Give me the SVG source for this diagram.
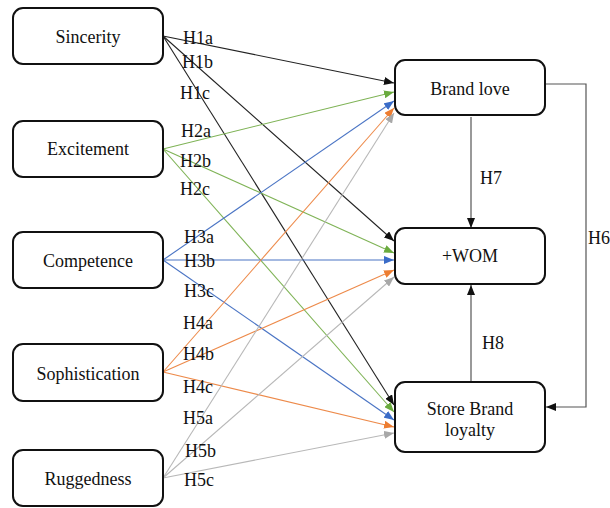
<svg xmlns="http://www.w3.org/2000/svg" width="610" height="508" viewBox="0 0 610 508" font-family="Liberation Serif, Times New Roman, serif" font-size="18">
<style>
.node rect{fill:#fff;stroke:#111;stroke-width:2}
text{fill:#111}
.c{text-anchor:middle}
.e{fill:none;stroke-width:1.1}
.k{stroke:#222}
.g{stroke:#7fb356}
.b{stroke:#4a74c4}
.o{stroke:#ed8a4a}
.y{stroke:#b8b8b8}
.d{stroke:#555;stroke-width:1.2}
</style>
<defs>
<marker id="mk" markerUnits="userSpaceOnUse" markerWidth="10" markerHeight="8" refX="10" refY="4" orient="auto"><path d="M0,0L10,4L0,8z" fill="#111"/></marker>
<marker id="mg" markerUnits="userSpaceOnUse" markerWidth="10" markerHeight="8" refX="10" refY="4" orient="auto"><path d="M0,0L10,4L0,8z" fill="#6aab3e"/></marker>
<marker id="mb" markerUnits="userSpaceOnUse" markerWidth="10" markerHeight="8" refX="10" refY="4" orient="auto"><path d="M0,0L10,4L0,8z" fill="#3a6cc8"/></marker>
<marker id="mo" markerUnits="userSpaceOnUse" markerWidth="10" markerHeight="8" refX="10" refY="4" orient="auto"><path d="M0,0L10,4L0,8z" fill="#ed7d31"/></marker>
<marker id="my" markerUnits="userSpaceOnUse" markerWidth="10" markerHeight="8" refX="10" refY="4" orient="auto"><path d="M0,0L10,4L0,8z" fill="#a8a8a8"/></marker>
</defs>
<g id="connectors">
<line class="e k" x1="163" y1="36" x2="394" y2="83" marker-end="url(#mk)"/>
<line class="e k" x1="163" y1="36" x2="394" y2="241" marker-end="url(#mk)"/>
<line class="e k" x1="163" y1="36" x2="394" y2="405" marker-end="url(#mk)"/>
<line class="e g" x1="163" y1="149" x2="394" y2="92" marker-end="url(#mg)"/>
<line class="e g" x1="163" y1="149" x2="394" y2="253" marker-end="url(#mg)"/>
<line class="e g" x1="163" y1="149" x2="394" y2="412" marker-end="url(#mg)"/>
<line class="e b" x1="163" y1="260" x2="394" y2="101" marker-end="url(#mb)"/>
<line class="e b" x1="163" y1="260" x2="394" y2="260" marker-end="url(#mb)"/>
<line class="e b" x1="163" y1="260" x2="394" y2="420" marker-end="url(#mb)"/>
<line class="e o" x1="163" y1="372" x2="394" y2="108" marker-end="url(#mo)"/>
<line class="e o" x1="163" y1="372" x2="394" y2="270" marker-end="url(#mo)"/>
<line class="e o" x1="163" y1="372" x2="394" y2="427" marker-end="url(#mo)"/>
<line class="e y" x1="163" y1="478" x2="394" y2="113" marker-end="url(#my)"/>
<line class="e y" x1="163" y1="478" x2="394" y2="277" marker-end="url(#my)"/>
<line class="e y" x1="163" y1="478" x2="394" y2="433" marker-end="url(#my)"/>
<line class="e d" x1="471" y1="117" x2="471" y2="228" marker-end="url(#mk)"/>
<line class="e d" x1="471" y1="382" x2="471" y2="285" marker-end="url(#mk)"/>
<polyline class="e d" points="546,84 586,84 586,407 546,407" marker-end="url(#mk)"/>
</g>
<g id="labels">
<text x="183" y="44">H1a</text>
<text x="182" y="68">H1b</text>
<text x="180" y="99">H1c</text>
<text x="181" y="137">H2a</text>
<text x="180" y="167">H2b</text>
<text x="180" y="195">H2c</text>
<text x="184" y="243">H3a</text>
<text x="184" y="267">H3b</text>
<text x="184" y="297">H3c</text>
<text x="183" y="329">H4a</text>
<text x="183" y="360">H4b</text>
<text x="183" y="393">H4c</text>
<text x="183" y="424">H5a</text>
<text x="185" y="457">H5b</text>
<text x="184" y="486">H5c</text>
<text x="480" y="184">H7</text>
<text x="482" y="349">H8</text>
<text x="588" y="244">H6</text>
</g>
<g id="sincerity" class="node"><rect x="13" y="8" width="150" height="56" rx="10"/><text class="c" x="88" y="43">Sincerity</text></g>
<g id="excitement" class="node"><rect x="13" y="121" width="150" height="56" rx="10"/><text class="c" x="88" y="155">Excitement</text></g>
<g id="competence" class="node"><rect x="13" y="232" width="150" height="56" rx="10"/><text class="c" x="88" y="267">Competence</text></g>
<g id="sophistication" class="node"><rect x="13" y="344" width="150" height="57" rx="10"/><text class="c" x="88" y="380">Sophistication</text></g>
<g id="ruggedness" class="node"><rect x="13" y="450" width="150" height="56" rx="10"/><text class="c" x="88" y="485">Ruggedness</text></g>
<g id="brandlove" class="node"><rect x="395" y="60" width="150" height="55" rx="10"/><text class="c" x="470" y="95">Brand love</text></g>
<g id="wom" class="node"><rect x="395" y="228" width="150" height="56" rx="10"/><text class="c" x="470" y="262">+WOM</text></g>
<g id="storebrandloyalty" class="node"><rect x="395" y="382" width="150" height="70" rx="10"/><text class="c" x="470" y="415">Store Brand</text><text class="c" x="470" y="436">loyalty</text></g>
</svg>
